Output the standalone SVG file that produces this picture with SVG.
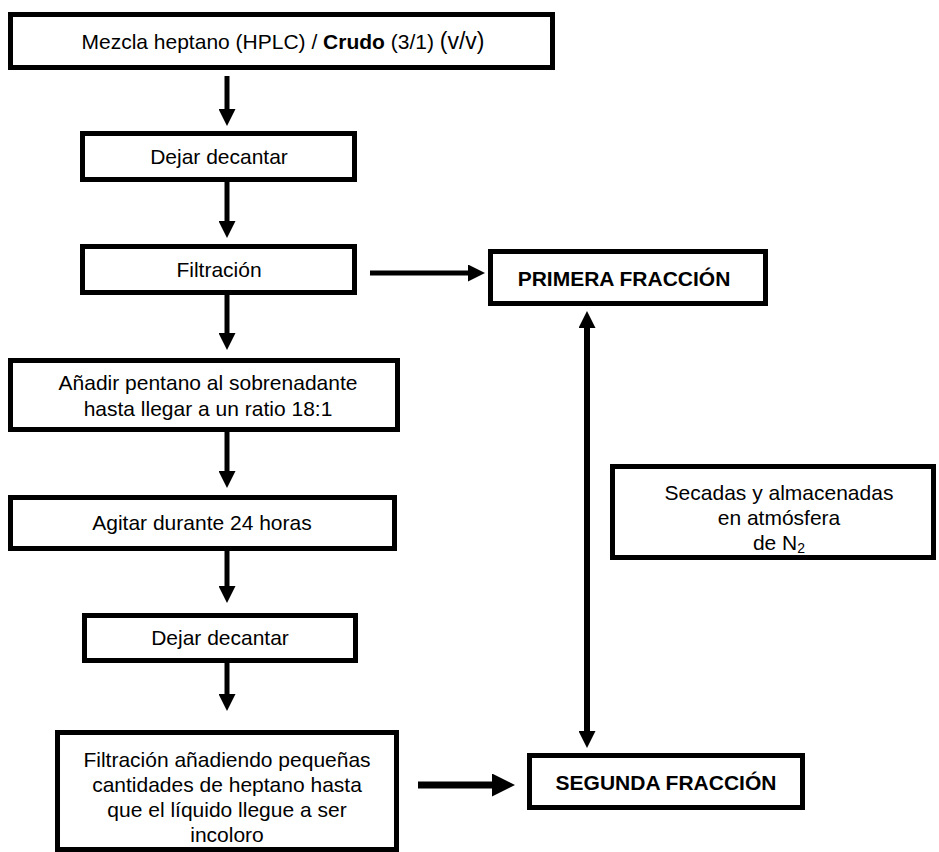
<svg xmlns="http://www.w3.org/2000/svg" width="939" height="852" viewBox="0 0 939 852">
<style>
.box{fill:#fff;stroke:#000;stroke-width:5}
.t{font-family:"Liberation Sans",Arial,sans-serif;font-size:21px;fill:#000;text-anchor:middle}
.b{font-weight:bold}
.c{stroke:#000;fill:none}
</style>
<defs>
<marker id="ah" viewBox="0 0 17 17" refX="0" refY="8.5" markerWidth="17" markerHeight="17" markerUnits="userSpaceOnUse" orient="auto-start-reverse"><path d="M0,0 L17,8.5 L0,17 z" fill="#000"/></marker>
<marker id="ahb" viewBox="0 0 23 23" refX="0" refY="11.5" markerWidth="23" markerHeight="23" markerUnits="userSpaceOnUse" orient="auto"><path d="M0,0 L23,11.5 L0,23 z" fill="#000"/></marker>
</defs>
<rect width="939" height="852" fill="#fff"/>
<g id="n1"><rect class="box" x="10.5" y="14.5" width="542" height="53"/>
<text class="t" x="283" y="48.5">Mezcla heptano (HPLC) / <tspan class="b">Crudo</tspan> (3/1) <tspan font-size="23">(v/v)</tspan></text></g>
<g id="n2"><rect class="box" x="82.5" y="133.5" width="272" height="46"/>
<text class="t" x="219" y="164">Dejar decantar</text></g>
<g id="n3"><rect class="box" x="82.5" y="246.5" width="272" height="46"/>
<text class="t" x="219" y="277">Filtración</text></g>
<g id="n4"><rect class="box" x="10.5" y="360.5" width="387" height="69"/>
<text class="t" x="208" y="390">Añadir pentano al sobrenadante</text>
<text class="t" x="208" y="416">hasta llegar a un ratio 18:1</text></g>
<g id="n5"><rect class="box" x="10.5" y="497.5" width="384" height="51"/>
<text class="t" x="202" y="530">Agitar durante 24 horas</text></g>
<g id="n6"><rect class="box" x="84.5" y="615.5" width="271" height="45"/>
<text class="t" x="220" y="645">Dejar decantar</text></g>
<g id="n7"><rect class="box" x="57.5" y="732.5" width="339" height="117"/>
<text class="t" x="227" y="767">Filtración añadiendo pequeñas</text>
<text class="t" x="227" y="792">cantidades de heptano hasta</text>
<text class="t" x="227" y="817">que el líquido llegue a ser</text>
<text class="t" x="227" y="842">incoloro</text></g>
<g id="n8"><rect class="box" x="490.5" y="251.5" width="275" height="52"/>
<text class="t b" x="624" y="285.5">PRIMERA FRACCIÓN</text></g>
<g id="n9"><rect class="box" x="529.5" y="755.5" width="273" height="52"/>
<text class="t b" x="666" y="789.5">SEGUNDA FRACCIÓN</text></g>
<g id="n10"><rect class="box" x="612.5" y="466.5" width="321" height="91"/>
<text class="t" x="779" y="500">Secadas y almacenadas</text>
<text class="t" x="779" y="525">en atmósfera</text>
<text class="t" x="779" y="550">de N<tspan font-size="14" dy="3">2</tspan></text></g>
<g id="connectors" class="c">
<line x1="227" y1="76" x2="227" y2="109" stroke-width="5" marker-end="url(#ah)"/>
<line x1="227" y1="182" x2="227" y2="221" stroke-width="5" marker-end="url(#ah)"/>
<line x1="227" y1="295" x2="227" y2="333" stroke-width="5" marker-end="url(#ah)"/>
<line x1="227" y1="432" x2="227" y2="471" stroke-width="5" marker-end="url(#ah)"/>
<line x1="227" y1="551" x2="227" y2="586" stroke-width="5" marker-end="url(#ah)"/>
<line x1="227" y1="663" x2="227" y2="694" stroke-width="5" marker-end="url(#ah)"/>
<line x1="370" y1="273" x2="468" y2="273" stroke-width="5" marker-end="url(#ah)"/>
<line x1="418" y1="785" x2="492" y2="785" stroke-width="7" marker-end="url(#ahb)"/>
<line x1="587" y1="328" x2="587" y2="731" stroke-width="6" marker-start="url(#ah)" marker-end="url(#ah)"/>
</g>
</svg>
